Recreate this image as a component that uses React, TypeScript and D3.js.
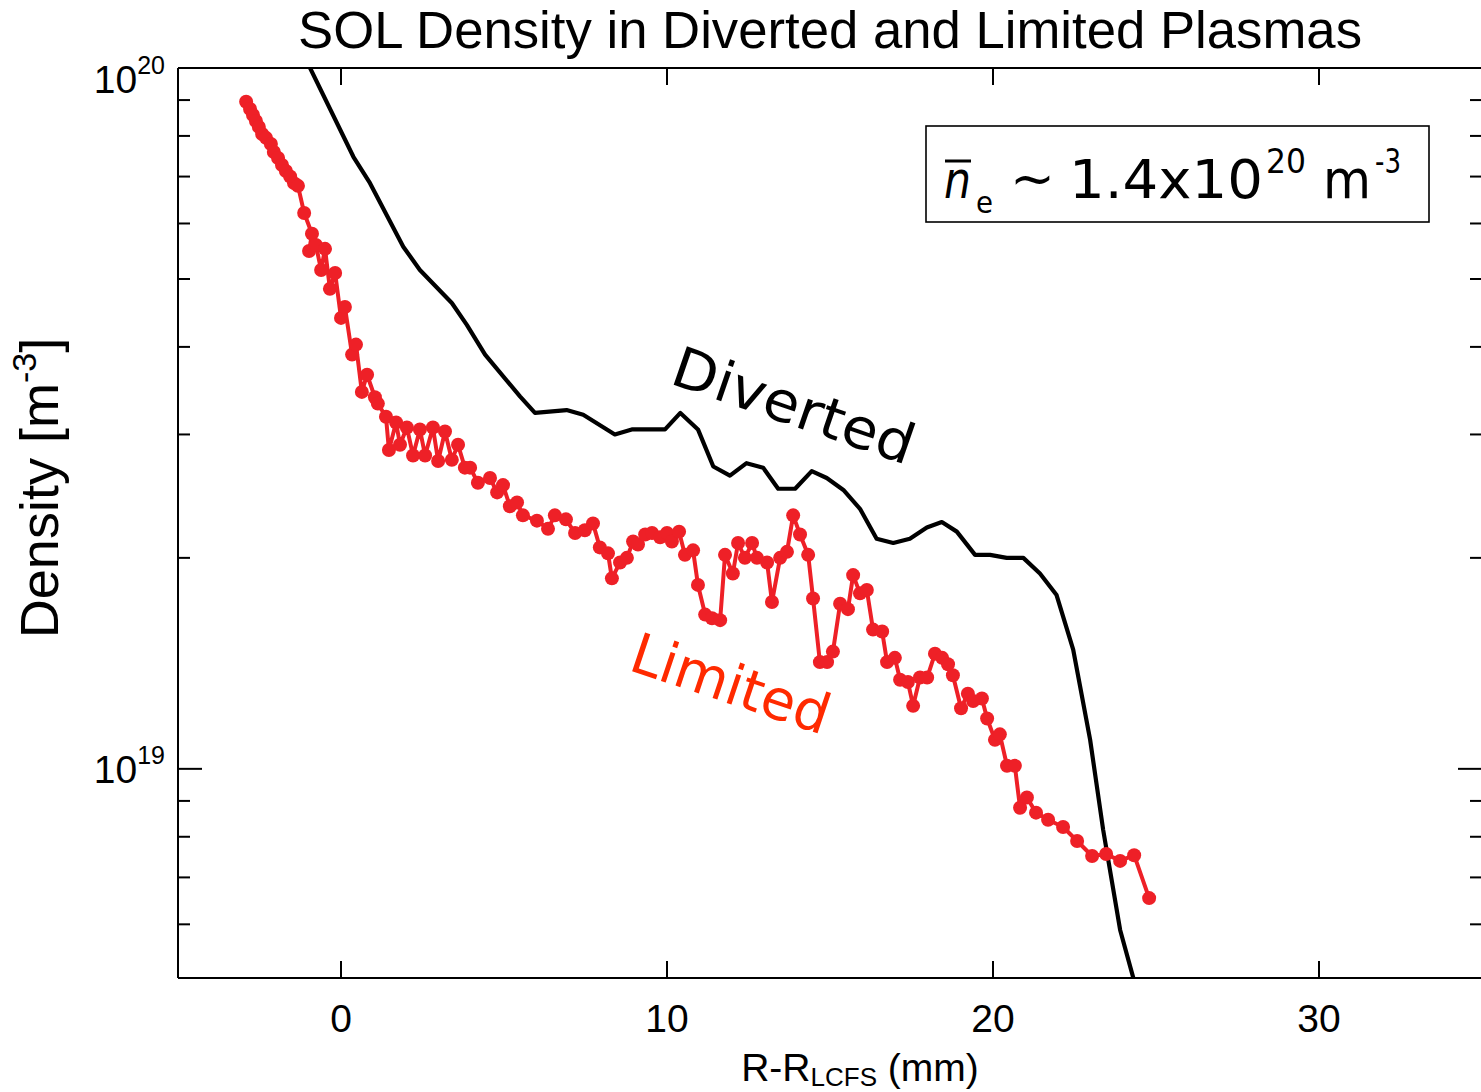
import React from "react";
import * as d3 from "d3";

const UNIT = 1e19;

const divertedX = [-1.07, 0.38, 0.89, 1.91, 2.42, 3.40, 3.86, 4.42, 5.49, 5.95, 6.92, 7.43, 8.40, 8.92, 9.94, 10.41, 10.95, 11.42, 11.93, 12.44, 12.95, 13.41, 13.93, 14.44, 14.90, 15.41, 15.92, 16.43, 16.94, 17.45, 17.97, 18.43, 18.89, 19.45, 19.91, 20.42, 20.93, 21.44, 21.95, 22.46, 22.98, 23.38, 23.90, 24.32];
const divertedN = [10.27, 7.47, 6.85, 5.56, 5.15, 4.62, 4.30, 3.90, 3.40, 3.22, 3.25, 3.20, 3.00, 3.05, 3.05, 3.22, 3.05, 2.70, 2.62, 2.73, 2.69, 2.51, 2.51, 2.66, 2.60, 2.50, 2.35, 2.13, 2.10, 2.13, 2.21, 2.25, 2.18, 2.02, 2.02, 2.00, 2.00, 1.90, 1.77, 1.48, 1.10, 0.818, 0.589, 0.50];

const limitedX = [-2.91, -2.79, -2.70, -2.61, -2.52, -2.42, -2.30, -2.15, -2.06, -1.93, -1.81, -1.69, -1.56, -1.44, -1.32, -1.13, -0.89, -0.98, -0.77, -0.61, -0.49, -0.34, -0.18, 0.00, 0.12, 0.34, 0.46, 0.64, 0.80, 1.04, 1.13, 1.38, 1.47, 1.69, 1.81, 2.02, 2.21, 2.42, 2.58, 2.82, 2.98, 3.19, 3.40, 3.59, 3.80, 3.96, 4.20, 4.57, 4.79, 4.97, 5.18, 5.40, 5.58, 6.01, 6.35, 6.56, 6.90, 7.18, 7.48, 7.73, 7.94, 8.19, 8.31, 8.56, 8.77, 8.96, 9.11, 9.33, 9.54, 9.79, 10.00, 10.15, 10.37, 10.55, 10.80, 10.95, 11.17, 11.38, 11.63, 11.78, 12.02, 12.18, 12.39, 12.61, 12.76, 13.07, 13.22, 13.47, 13.68, 13.87, 14.08, 14.33, 14.48, 14.69, 14.91, 15.09, 15.31, 15.55, 15.71, 15.92, 16.13, 16.32, 16.60, 16.75, 16.99, 17.15, 17.39, 17.55, 17.76, 17.98, 18.22, 18.44, 18.62, 18.77, 19.02, 19.23, 19.39, 19.66, 19.82, 20.06, 20.21, 20.43, 20.67, 20.83, 21.04, 21.32, 21.69, 22.15, 22.58, 23.04, 23.47, 23.90, 24.33, 24.79];
const limitedN = [8.95, 8.74, 8.57, 8.40, 8.24, 8.05, 7.95, 7.79, 7.59, 7.44, 7.27, 7.13, 7.00, 6.85, 6.79, 6.21, 5.80, 5.48, 5.59, 5.15, 5.52, 4.84, 5.10, 4.40, 4.56, 3.90, 4.03, 3.45, 3.65, 3.39, 3.32, 3.18, 2.85, 3.12, 2.90, 3.07, 2.80, 3.05, 2.80, 3.07, 2.75, 3.03, 2.76, 2.90, 2.69, 2.69, 2.56, 2.60, 2.48, 2.54, 2.37, 2.40, 2.30, 2.26, 2.20, 2.30, 2.27, 2.17, 2.19, 2.24, 2.07, 2.03, 1.87, 1.97, 2.00, 2.11, 2.09, 2.16, 2.17, 2.14, 2.17, 2.11, 2.18, 2.02, 2.05, 1.83, 1.66, 1.64, 1.63, 2.02, 1.90, 2.10, 2.00, 2.10, 2.00, 1.97, 1.73, 2.00, 2.04, 2.30, 2.16, 2.02, 1.75, 1.42, 1.42, 1.47, 1.72, 1.69, 1.89, 1.78, 1.80, 1.58, 1.57, 1.42, 1.44, 1.34, 1.33, 1.23, 1.35, 1.35, 1.46, 1.44, 1.41, 1.36, 1.22, 1.28, 1.25, 1.26, 1.18, 1.10, 1.12, 1.01, 1.01, 0.88, 0.91, 0.866, 0.846, 0.826, 0.789, 0.751, 0.756, 0.739, 0.753, 0.654];

const xTicks = [0, 10, 20, 30];
const yMajor = [1e19, 1e20];
const yMajorExp = ["19", "20"];
const yMinor = [6e18, 7e18, 8e18, 9e18, 2e19, 3e19, 4e19, 5e19, 6e19, 7e19, 8e19, 9e19];

const W = 1481, H = 1092;
const L = 178, R = 1482, T = 68, B = 978;
const axisFont = "'Liberation Sans', Arial, Helvetica, sans-serif";
const annFont = "'DejaVu Sans', sans-serif";

export default function App() {
  const x = d3.scaleLinear().domain([-5, 35]).range([L, R]);
  const y = d3.scaleLog().domain([5.03e18, 1e20]).range([B, T]);

  const div = divertedX.map((v, i) => [v, divertedN[i] * UNIT] as [number, number]);
  const n = Math.min(limitedX.length, limitedN.length);
  const lim = d3.range(n).map((i) => [limitedX[i], limitedN[i] * UNIT] as [number, number]);
  const line = d3.line<[number, number]>().x((d) => x(d[0])).y((d) => y(d[1]));

  const red = "#ee2027";
  const labelBaseline = (t: number) => (t >= 1e20 ? y(t) + 25 : y(t) + 14);

  return (
    <svg width={W} height={H} style={{ position: "absolute", left: 0, top: 0, background: "#fff" }}>
      <defs>
        <clipPath id="plotclip">
          <rect x={L} y={T} width={R - L} height={B - T} />
        </clipPath>
      </defs>
      <rect x={0} y={0} width={W} height={H} fill="#fff" />

      <text x={830} y={48} textAnchor="middle" fontFamily={axisFont} fontSize={52.7} fill="#000">
        SOL Density in Diverted and Limited Plasmas
      </text>

      <g clipPath="url(#plotclip)">
        <path d={line(div) || ""} fill="none" stroke="#000" strokeWidth={4.2} strokeLinejoin="round" />
        <path d={line(lim) || ""} fill="none" stroke={red} strokeWidth={4} strokeLinejoin="round" />
        {lim.map((d, i) => (
          <circle key={i} cx={x(d[0])} cy={y(d[1])} r={7} fill={red} />
        ))}
      </g>

      <g stroke="#000" strokeWidth={2} fill="none">
        <line x1={L} y1={T} x2={R} y2={T} />
        <line x1={L} y1={B} x2={R} y2={B} />
        <line x1={L} y1={T} x2={L} y2={B} />
        <line x1={R} y1={T} x2={R} y2={B} />
        {xTicks.map((t) => (
          <g key={"xt" + t}>
            <line x1={x(t)} y1={B} x2={x(t)} y2={B - 17} />
            <line x1={x(t)} y1={T} x2={x(t)} y2={T + 17} />
          </g>
        ))}
        {yMajor.map((t) => (
          <g key={"ym" + t}>
            <line x1={L} y1={y(t)} x2={L + 24} y2={y(t)} />
            <line x1={R} y1={y(t)} x2={R - 24} y2={y(t)} />
          </g>
        ))}
        {yMinor.map((t) => (
          <g key={"yn" + t}>
            <line x1={L} y1={y(t)} x2={L + 12} y2={y(t)} />
            <line x1={R} y1={y(t)} x2={R - 12} y2={y(t)} />
          </g>
        ))}
      </g>

      {xTicks.map((t) => (
        <text key={"xl" + t} x={x(t)} y={1032} textAnchor="middle" fontFamily={axisFont} fontSize={39} fill="#000">
          {t}
        </text>
      ))}

      {yMajor.map((t, i) => (
        <text key={"yl" + t} x={165} y={labelBaseline(t)} textAnchor="end" fontFamily={axisFont} fontSize={39} fill="#000">
          10
          <tspan fontSize={25} dy={-19}>{yMajorExp[i]}</tspan>
        </text>
      ))}

      <text x={860} y={1081} textAnchor="middle" fontFamily={axisFont} fontSize={39} fill="#000">
        R-R
        <tspan fontSize={26} dy={5}>LCFS</tspan>
        <tspan dy={-5}> (mm)</tspan>
      </text>

      <text transform="translate(58,488) rotate(-90)" textAnchor="middle" fontFamily={axisFont} fontSize={54} fill="#000">
        Density [m
        <tspan fontSize={34} dy={-22}>-3</tspan>
        <tspan dy={22}>]</tspan>
      </text>

      <rect x={926} y={126} width={503} height={96} fill="none" stroke="#000" strokeWidth={1.6} />
      <g fontFamily={annFont} fill="#000">
        <text x={944} y={198} fontSize={52} fontStyle="italic" textLength={27} lengthAdjust="spacingAndGlyphs">n</text>
        <line x1={945} y1={161} x2={971} y2={161} stroke="#000" strokeWidth={3} />
        <text x={976} y={213} fontSize={31} textLength={17} lengthAdjust="spacingAndGlyphs">e</text>
        <text x={1010} y={196} fontSize={52} textLength={45} lengthAdjust="spacingAndGlyphs">~</text>
        <text x={1069} y={198} fontSize={54} textLength={194} lengthAdjust="spacingAndGlyphs">1.4x10</text>
        <text x={1266} y={173} fontSize={33} textLength={40} lengthAdjust="spacingAndGlyphs">20</text>
        <text x={1323} y={198} fontSize={54} textLength={48} lengthAdjust="spacingAndGlyphs">m</text>
        <text x={1375} y={173} fontSize={33} textLength={26} lengthAdjust="spacingAndGlyphs">-3</text>
      </g>

      <text transform="translate(794,405) rotate(19)" textAnchor="middle" dy="0.36em" fontFamily={annFont} fontSize={56} fill="#000" textLength={252} lengthAdjust="spacingAndGlyphs">
        Diverted
      </text>
      <text transform="translate(731,683) rotate(18.5)" textAnchor="middle" dy="0.36em" fontFamily={annFont} fontSize={56} fill="#ff2a00" textLength={206} lengthAdjust="spacingAndGlyphs">
        Limited
      </text>
    </svg>
  );
}
